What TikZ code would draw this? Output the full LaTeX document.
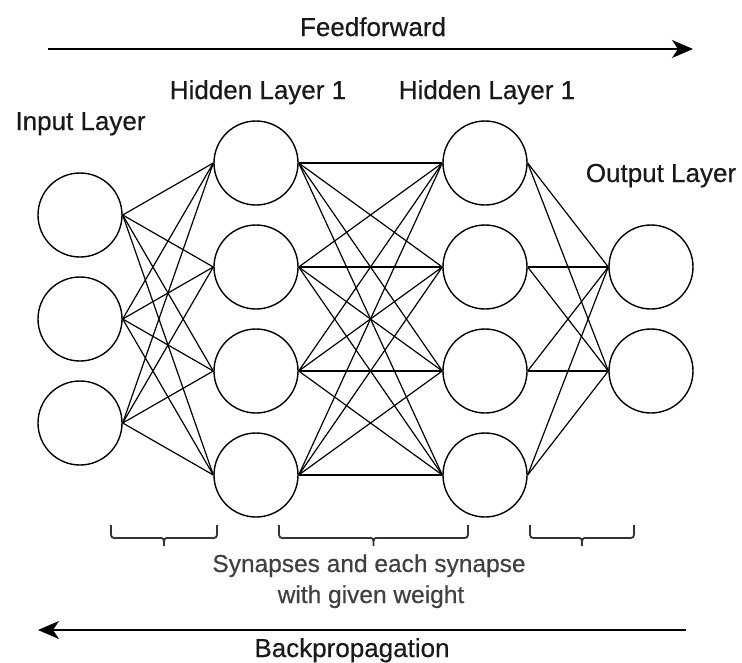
\documentclass[tikz,border=0pt]{standalone}
\usepackage{fontspec}
\setmainfont{Liberation Sans}
\newfontfamily\labelfont[FakeBold=0.4]{Liberation Sans}
\usetikzlibrary{arrows.meta}
\begin{document}
\begin{tikzpicture}[x=1pt,y=-1pt,
  neuron/.style={circle,draw,line width=1.4pt,minimum size=84pt,inner sep=0pt},
  syn/.style={line width=1.2pt},
  lbl/.style={font=\labelfont\fontsize{26}{30}\selectfont,text=black!90,anchor=base,inner sep=0pt},
  note/.style={font=\labelfont\fontsize{24.5}{30}\selectfont,text=black!75,anchor=base,inner sep=0pt},
  flow/.style={line width=1.8pt,-{Stealth[length=21pt,width=18pt,inset=6pt]}},
  brk/.style={line width=1.8pt,draw=black!80}]
\useasboundingbox (0,0) rectangle (742,662);

% layers of neurons
\foreach \i/\y in {1/215,2/319,3/423}
  \node[neuron] (in\i) at (80,\y) {};
\foreach \i/\y in {1/163,2/267,3/371,4/475}{
  \node[neuron] (ha\i) at (256,\y) {};
  \node[neuron] (hb\i) at (485,\y) {};
}
\foreach \i/\y in {1/267,2/371}
  \node[neuron] (out\i) at (651,\y) {};

% synapses between consecutive layers
\foreach \a in {1,2,3}
  \foreach \b in {1,...,4}
    \draw[syn] (in\a.east) -- (ha\b.west);
\foreach \a in {1,...,4}
  \foreach \b in {1,...,4}
    \draw[syn] (ha\a.east) -- (hb\b.west);
\foreach \a in {1,...,4}
  \foreach \b in {1,2}
    \draw[syn] (hb\a.east) -- (out\b.west);

% layer titles
\node[lbl] (tin) at (80.5,130) {Input Layer};
\node[lbl] (tha) at (258,99) {Hidden Layer 1};
\node[lbl] (thb) at (487,99) {Hidden Layer 1};
\node[lbl] (tout) at (661,182) {Output Layer};

% direction arrows
\coordinate (ffs) at (48,49);
\coordinate (ffe) at (693,49);
\draw[flow] (ffs) -- (ffe);
\node[lbl] (tff) at (373,36) {Feedforward};

\coordinate (bps) at (686,630);
\coordinate (bpe) at (38,630);
\draw[flow] (bps) -- (bpe);
\node[lbl] (tbp) at (352,657) {Backpropagation};

% braces under the synapse groups
\foreach \xa/\xb in {111/217,279/468,530/634}{
  \pgfmathsetmacro\xm{(\xa+\xb)/2}
  \draw[brk] (\xa,525) -- (\xa,531) .. controls (\xa,538) .. (\xa+7,538) -- (\xm-5,538)
    .. controls (\xm,538) .. (\xm,546) .. controls (\xm,538) .. (\xm+5,538)
    -- (\xb-7,538) .. controls (\xb,538) .. (\xb,531) -- (\xb,525);
}
\node[note] (syn1) at (369,572) {Synapses and each synapse};
\node[note] (syn2) at (371,603) {with given weight};
\end{tikzpicture}
\end{document}
